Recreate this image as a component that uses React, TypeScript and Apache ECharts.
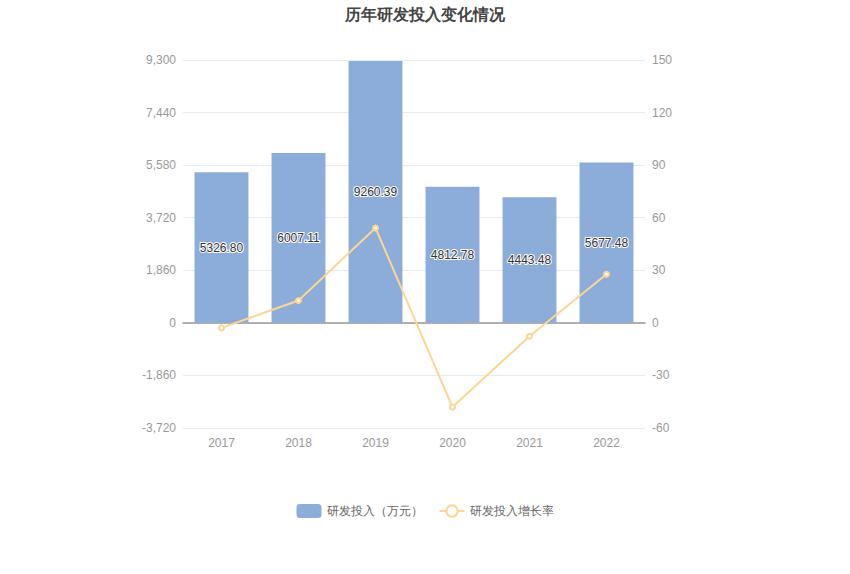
import React, { useEffect, useRef } from "react";
import * as echarts from "echarts";

const categories = ["2017", "2018", "2019", "2020", "2021", "2022"];
const rdInvest = [5326.8, 6007.11, 9260.39, 4812.78, 4443.48, 5677.48];
const growthRate = [-2.87, 12.77, 54.16, -48.03, -7.67, 27.77];

export default function App() {
  const ref = useRef<HTMLDivElement>(null);
  useEffect(() => {
    if (!ref.current) return;
    const chart = echarts.init(ref.current, undefined, { renderer: "svg" });
    chart.setOption({
      animation: false,
      backgroundColor: "#fff",
      title: {
        text: "历年研发投入变化情况",
        left: "center",
        top: 1,
        textStyle: { fontSize: 16, fontWeight: "bold", color: "#444" },
      },
      legend: {
        bottom: 51,
        left: "center",
        itemWidth: 25,
        itemHeight: 14,
        itemGap: 16,
        textStyle: { color: "#666", fontSize: 12 },
        data: [
          { name: "研发投入（万元）", icon: "roundRect" },
          { name: "研发投入增长率" },
        ],
      },
      grid: { left: 183, right: 205, top: 60, bottom: 146 },
      xAxis: [
        {
          type: "category",
          data: categories,
          position: "bottom",
          axisLine: { show: false, onZero: false },
          axisTick: { show: false },
          axisLabel: { color: "#999", fontSize: 12, margin: 9 },
        },
        {
          type: "category",
          data: categories,
          gridIndex: 0,
          axisLine: { show: true, onZero: true, onZeroAxisIndex: 0, lineStyle: { color: "#999", width: 1.5 } },
          axisTick: { show: true, alignWithLabel: true, length: 5, lineStyle: { color: "#999" } },
          axisLabel: { show: false },
        },
      ],
      yAxis: [
        {
          type: "value",
          min: -3720,
          max: 9300,
          interval: 1860,
          axisLine: { show: false },
          axisTick: { show: false },
          axisLabel: {
            color: "#999",
            fontSize: 12,
            margin: 7,
            formatter: (v: number) => v.toLocaleString("en-US"),
          },
          splitLine: { lineStyle: { color: "#E6EBF5" } },
        },
        {
          type: "value",
          min: -60,
          max: 150,
          interval: 30,
          axisLine: { show: false },
          axisTick: { show: false },
          axisLabel: { color: "#999", fontSize: 12, margin: 7 },
          splitLine: { show: false },
        },
      ],
      series: [
        {
          name: "研发投入（万元）",
          type: "bar",
          data: rdInvest,
          barWidth: "70%",
          itemStyle: { color: "#8CACD9" },
          label: {
            show: true,
            position: "inside",
            color: "#333",
            fontSize: 12,
            textBorderColor: "#fff",
            textBorderWidth: 2,
            formatter: (p: any) => Number(p.value).toFixed(2),
          },
        },
        {
          name: "研发投入增长率",
          type: "line",
          yAxisIndex: 1,
          data: growthRate,
          symbol: "emptyCircle",
          symbolSize: 5,
          lineStyle: { color: "#FFD591", width: 2 },
          itemStyle: { color: "#FFD591" },
        },
      ],
    });
    return () => chart.dispose();
  }, []);
  return (
    <div
      ref={ref}
      style={{ position: "fixed", left: 0, top: 0, width: 850, height: 574 }}
    />
  );
}
